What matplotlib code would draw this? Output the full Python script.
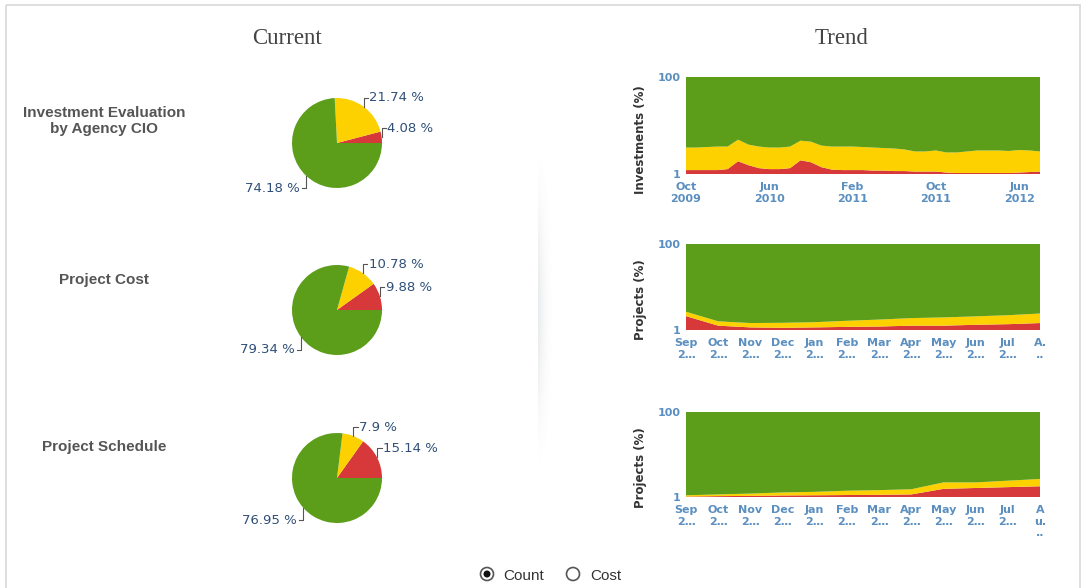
import numpy as np
import matplotlib
matplotlib.use("Agg")
import matplotlib.pyplot as plt
from matplotlib.patches import Circle, Rectangle

W, H = 1086, 588

GREEN, YELLOW, RED = '#5c9e1a', '#fdd000', '#d7383a'
TICK_BLUE = '#5b8fc0'
LABEL_BLUE = '#2f4f78'

row_labels = ['Investment Evaluation\nby Agency CIO', 'Project Cost', 'Project Schedule']

# current split, percent
pie_red = [4.08, 9.88, 15.14]
pie_yellow = [21.74, 10.78, 7.9]
pie_green = [74.18, 79.34, 76.95]

# trend 1: monthly, Oct 2009 .. Aug 2012 (layer thickness in percent)
inv_red = [5, 5, 5, 5, 6, 14, 10, 7, 6, 6, 7, 15, 13, 8, 5.5, 5, 5, 5, 4.5,
           4.5, 4, 4, 3.5, 3.5, 3.5, 2.5, 2, 2, 2, 2, 2, 2, 2.5, 3, 3.5]
inv_yellow = [23, 23, 23.5, 24, 23, 22, 21, 22, 22, 22, 22, 20, 21, 22, 23.5,
              24, 24, 23.5, 23.5, 23, 23, 22, 20.5, 20.5, 21.5, 20.5, 21, 22,
              23, 23, 23, 22.5, 23, 22, 20.5]
inv_ticks = ['Oct\n2009', 'Jun\n2010', 'Feb\n2011', 'Oct\n2011', 'Jun\n2012']
inv_tick_idx = [0, 8, 16, 24, 32]

# trend 2 and 3: Sep .. Aug
proj_ticks = ['Sep', 'Oct', 'Nov', 'Dec', 'Jan', 'Feb', 'Mar', 'Apr', 'May',
              'Jun', 'Jul']
cost_red = [17, 6, 4, 3.5, 4, 4.6, 5, 6, 6, 7, 7.7, 9]
cost_yellow = [5, 5, 5, 5.8, 6, 7, 8, 8.7, 9.5, 9.7, 10.3, 11]
sched_red = [1.5, 2, 2.3, 2.8, 3, 3.3, 3.6, 4, 10.5, 11.5, 12.5, 13.5]
sched_yellow = [1.5, 2, 2.7, 3.5, 4, 5, 5.4, 6, 7.5, 6.5, 7.5, 8.5]


def px_axes(fig, l, t, r, b):
    return fig.add_axes([l / W, 1 - b / H, (r - l) / W, (b - t) / H])


fig = plt.figure(figsize=(W / 100, H / 100), dpi=100)
fig.patch.set_facecolor('white')

# overlay in pixel coordinates for text, border, radio buttons
ov = fig.add_axes([0, 0, 1, 1])
ov.axis('off')
ov.add_patch(Rectangle((6, 5), 1074, 600, fill=False, ec='#d8d8d8', lw=1.2))

# faint divider shadow: sharp left edge, fading to the right
yy = np.linspace(0, 1, 300)[:, None]
xx = np.linspace(0, 1, 40)[None, :]
alpha = 0.16 * np.sin(np.pi * yy) ** 2 * (1 - xx) ** 2.5
img = np.zeros((300, 40, 4))
img[..., 0] = 0.45
img[..., 1] = 0.50
img[..., 2] = 0.52
img[..., 3] = alpha
ov.imshow(img, extent=(538, 556, 480, 140), aspect='auto', interpolation='bilinear')
ov.set_xlim(0, W)
ov.set_ylim(H, 0)

ov.text(287, 39, 'Current', family='Liberation Serif', fontsize=16.5,
        color='#444444', ha='center', va='center')
ov.text(842, 39, 'Trend', family='Liberation Serif', fontsize=16.5,
        color='#444444', ha='center', va='center')

row_y = [121, 280, 447]
for lab, y in zip(row_labels, row_y):
    ov.text(104, y, lab, family='Liberation Sans', fontweight='bold',
            fontsize=11, color='#555555', ha='center', va='center',
            linespacing=1.2)

# radio buttons
ov.add_patch(Circle((487, 574), 6.5, fc='white', ec='#555555', lw=1.2))
ov.add_patch(Circle((487, 574), 3.5, fc='#111111', ec='none'))
ov.text(503, 576, 'Count', family='Liberation Sans', fontsize=11,
        color='#333333', va='center')
ov.add_patch(Circle((573, 574), 6.5, fc='white', ec='#555555', lw=1.2))
ov.text(590, 576, 'Cost', family='Liberation Sans', fontsize=11,
        color='#333333', va='center')

# pies
pie_cy = [143, 310, 478]
for i, cy in enumerate(pie_cy):
    ax = px_axes(fig, 292, cy - 45, 382, cy + 45)
    vals = [pie_red[i], pie_yellow[i], pie_green[i]]
    wedges, _ = ax.pie(vals, colors=[RED, YELLOW, GREEN], startangle=0,
                       counterclock=True, radius=1,
                       wedgeprops=dict(linewidth=0))
    ax.set_xlim(-1, 1)
    ax.set_ylim(-1, 1)
    ax.set_aspect('equal')
    for w, v in zip(wedges, vals):
        a = np.deg2rad((w.theta1 + w.theta2) / 2)
        x0, y0 = np.cos(a), np.sin(a)
        if y0 >= 0:
            y1 = y0 + 0.2
            x1 = x0 + 0.1
            ha = 'left'
        else:
            y1 = y0 - 0.28
            x1 = x0 - 0.1
            ha = 'right'
        ax.plot([x0, x0, x1], [y0, y1, y1], color='#555555', lw=0.8,
                clip_on=False)
        ax.text(x1 + (0.03 if ha == 'left' else -0.04), y1, f'{v:g} %',
                ha=ha, va='center', fontsize=9.5, color=LABEL_BLUE,
                clip_on=False)


def trend(ax, red, yellow, ticks, tick_idx, ylabel):
    red = np.array(red, float)
    yellow = np.array(yellow, float)
    green = 100 - red - yellow
    x = np.arange(len(red))
    ax.stackplot(x, red, yellow, green, colors=[RED, YELLOW, GREEN], lw=0)
    ax.set_xlim(0, len(red) - 1)
    ax.set_ylim(1, 100)
    ax.set_yticks([1, 100])
    ax.set_yticklabels(['1', '100'])
    ax.set_xticks(tick_idx)
    ax.set_xticklabels(ticks, linespacing=1.15)
    for s in ax.spines.values():
        s.set_visible(False)
    ax.tick_params(length=0, labelsize=8, labelcolor=TICK_BLUE)
    ax.tick_params(axis='x', pad=6)
    ax.tick_params(axis='y', pad=4)
    for t in ax.get_xticklabels() + ax.get_yticklabels():
        t.set_fontweight('bold')
    ax.set_ylabel(ylabel, fontsize=8.5, fontweight='bold', color='#333333')
    ax.yaxis.set_label_coords(-0.11, 0.35)


ax1 = px_axes(fig, 686, 77, 1040, 174)
trend(ax1, inv_red, inv_yellow, inv_ticks, inv_tick_idx, 'Investments (%)')

lab2 = [m + '\n2…' for m in proj_ticks] + ['A.\n..']
ax2 = px_axes(fig, 686, 244, 1040, 330)
trend(ax2, cost_red, cost_yellow, lab2, list(range(12)), 'Projects (%)')

lab3 = [m + '\n2…' for m in proj_ticks] + ['A\nu.\n..']
ax3 = px_axes(fig, 686, 412, 1040, 497)
trend(ax3, sched_red, sched_yellow, lab3, list(range(12)), 'Projects (%)')

fig.savefig('out.png', dpi=100, facecolor='white')
